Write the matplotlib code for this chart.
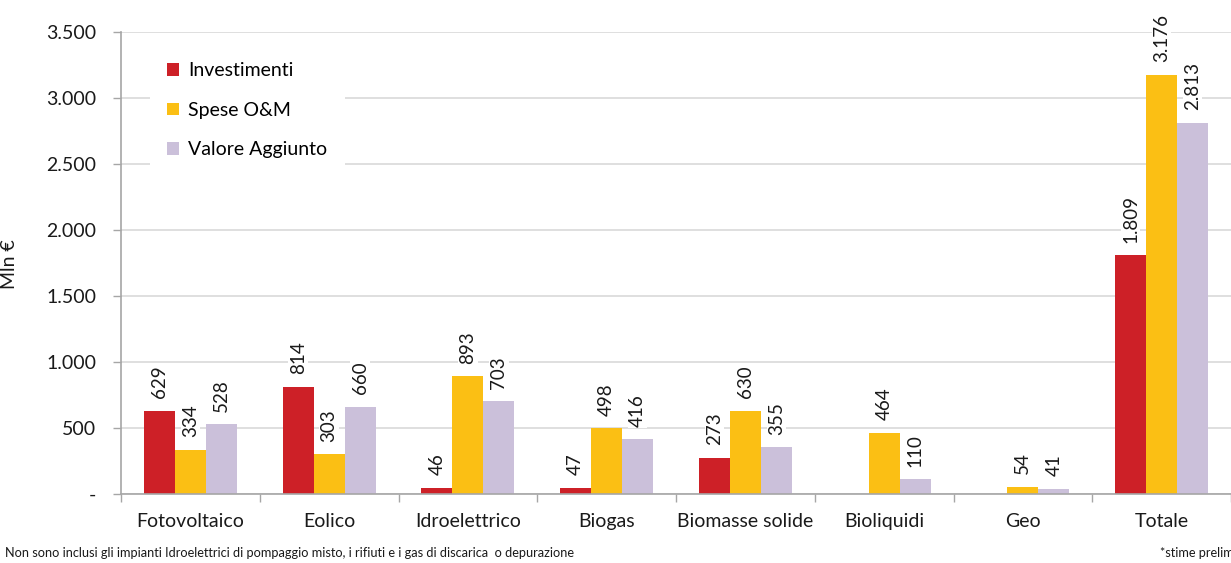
#!/usr/bin/env python3
"""Investimenti, spese O&M e valore aggiunto per fonte rinnovabile (Mln €)."""

import matplotlib

matplotlib.use("Agg")
import matplotlib.pyplot as plt
import numpy as np
from matplotlib.patches import Patch

plt.rcParams["font.family"] = ["Lato", "DejaVu Sans"]

categories = [
    "Fotovoltaico",
    "Eolico",
    "Idroelettrico",
    "Biogas",
    "Biomasse solide",
    "Bioliquidi",
    "Geo",
    "Totale",
]
series_names = ["Investimenti", "Spese O&M", "Valore Aggiunto"]
investimenti = [629, 814, 46, 47, 273, None, None, 1809]
spese_om = [334, 303, 893, 498, 630, 464, 54, 3176]
valore_aggiunto = [528, 660, 703, 416, 355, 110, 41, 2813]
y_ticks = [0, 500, 1000, 1500, 2000, 2500, 3000, 3500]

COLORS = ["#CD2027", "#FBBF14", "#CBC0DA"]
GRID = "#D9D9D9"
AXIS = "#A6A6A6"
TEXT = "#1a1a1a"


def fmt_it(v):
    if v == 0:
        return "-"
    return f"{v:,.0f}".replace(",", ".")


fig = plt.figure(figsize=(12.31, 5.63), dpi=100)
ax = fig.add_axes([121 / 1231, 1 - 494 / 563, 1 - 121 / 1231, (494 - 32) / 563])

x = np.arange(len(categories))
w = 0.223
label_box = dict(facecolor="white", edgecolor="none", pad=1.0)

for k, (vals, col) in enumerate(zip([investimenti, spese_om, valore_aggiunto], COLORS)):
    xs = x + (k - 1) * w
    hs = [np.nan if v is None else v for v in vals]
    ax.bar(xs, hs, width=w, color=col, zorder=2)
    for xi, v in zip(xs, vals):
        if v is None:
            continue
        ax.annotate(
            fmt_it(v),
            xy=(xi, v),
            xytext=(0, 9),
            textcoords="offset points",
            rotation=90,
            ha="center",
            va="bottom",
            fontsize=13.5,
            color=TEXT,
            bbox=label_box,
            zorder=3,
        )

ax.set_xlim(-0.5, len(categories) - 0.5)
ax.set_ylim(0, 3500)
ax.set_yticks(y_ticks)
ax.set_yticklabels([fmt_it(v) for v in y_ticks], fontsize=14, color=TEXT)
ax.yaxis.grid(True, color=GRID, lw=1.2, zorder=0)
ax.set_axisbelow(True)

# category labels centred, tick marks on the group boundaries
ax.set_xticks(x)
ax.set_xticklabels(categories, fontsize=14, color=TEXT)
ax.tick_params(axis="x", length=0, pad=14)
ax.set_xticks(np.arange(len(categories) + 1) - 0.5, minor=True)
ax.tick_params(axis="x", which="minor", length=6, color=AXIS, width=1)
ax.tick_params(axis="y", length=6, color=AXIS, width=1, pad=12)

for side in ("top", "right"):
    ax.spines[side].set_visible(False)
for side in ("left", "bottom"):
    ax.spines[side].set_color(AXIS)
    ax.spines[side].set_linewidth(1.2)

ax.set_ylabel("Mln €", fontsize=14, color=TEXT)
ax.yaxis.set_label_coords((18 - 121) / 1110, 0.497)

handles = [Patch(facecolor=c, edgecolor="none") for c in COLORS]
leg = ax.legend(
    handles,
    series_names,
    loc="upper left",
    bbox_to_anchor=(0.017, 0.993),
    fontsize=14,
    frameon=True,
    facecolor="white",
    edgecolor="none",
    framealpha=1.0,
    fancybox=False,
    handlelength=0.62,
    handleheight=0.62,
    handletextpad=0.45,
    labelspacing=1.15,
    borderpad=0.9,
)
leg.set_zorder(4)

fig.text(
    5 / 1231,
    1 - 553 / 563,
    "Non sono inclusi gli impianti Idroelettrici di pompaggio misto, i rifiuti e i gas di discarica  o depurazione",
    fontsize=9.2,
    ha="left",
    va="center",
    color=TEXT,
)
# cut at the right edge, as in the source image
fig.text(
    1160 / 1231,
    1 - 553 / 563,
    "*stime preliminari",
    fontsize=9.2,
    ha="left",
    va="center",
    color=TEXT,
)

fig.savefig("out.png", dpi=100)
